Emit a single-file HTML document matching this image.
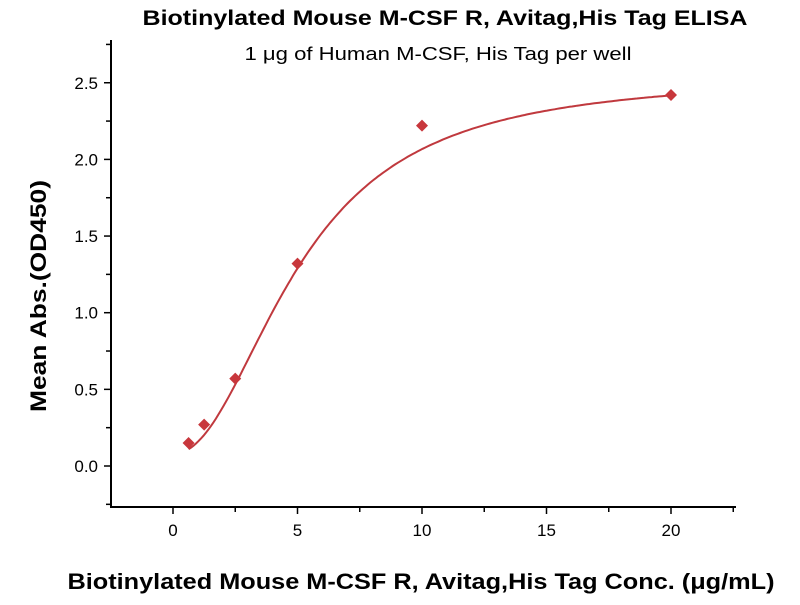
<!DOCTYPE html>
<html><head><meta charset="utf-8"><style>
body{margin:0;background:#fff;width:800px;height:600px;overflow:hidden}
text{font-family:"Liberation Sans",sans-serif;fill:#000}
</style></head><body>
<svg id="s" width="800" height="600" xmlns="http://www.w3.org/2000/svg">
<text x="445" y="25" text-anchor="middle" font-size="21" font-weight="bold" textLength="605" lengthAdjust="spacingAndGlyphs">Biotinylated Mouse M-CSF R, Avitag,His Tag ELISA</text>
<text x="438" y="60" text-anchor="middle" font-size="18" textLength="387" lengthAdjust="spacingAndGlyphs">1 μg of Human M-CSF, His Tag per well</text>
<text x="421" y="589" text-anchor="middle" font-size="22" font-weight="bold" textLength="707" lengthAdjust="spacingAndGlyphs">Biotinylated Mouse M-CSF R, Avitag,His Tag Conc. (μg/mL)</text>
<text transform="translate(46,296) rotate(-90)" text-anchor="middle" font-size="22" font-weight="bold" textLength="232" lengthAdjust="spacingAndGlyphs">Mean Abs.(OD450)</text>
<g stroke="#000" stroke-width="2" fill="none">
<line x1="111" y1="40" x2="111" y2="508"/>
<line x1="110" y1="507" x2="736" y2="507"/>
</g>
<g id="t" stroke="#000" stroke-width="1.5"></g>
<g id="l" font-size="17"></g>
<path id="c" fill="none" stroke="#c0393e" stroke-width="2"/>
<g id="m" fill="#c8373c"></g>
</svg>
<script>
const X=x=>173+x*24.9,Y=y=>466-y*153.3;
let t='',l='';
for(let v=-2.5;v<=22.5;v+=2.5){const px=X(v);if(px<112||px>736)continue;const maj=(v%5===0);t+=`<line x1="${px}" y1="507" x2="${px}" y2="${maj?514:512}"/>`;if(maj)l+=`<text x="${px}" y="536" text-anchor="middle">${v}</text>`;}
for(let v=-0.25;v<=2.75;v+=0.25){const py=Y(v);if(py<40||py>506)continue;const maj=Math.abs(v*2-Math.round(v*2))<1e-6;t+=`<line x1="${maj?104:106}" y1="${py}" x2="111" y2="${py}"/>`;if(maj)l+=`<text x="98" y="${py+6}" text-anchor="end">${v.toFixed(1)}</text>`;}
document.getElementById('t').innerHTML=t;document.getElementById('l').innerHTML=l;
const f=x=>0.08+(2.55-0.08)*Math.pow(x/5.1,2.1)/(1+Math.pow(x/5.1,2.1));
let d='';for(let x=0.625;x<=20.001;x+=0.1){d+=(d?'L':'M')+X(x).toFixed(1)+','+Y(f(x)).toFixed(1);}
document.getElementById('c').setAttribute('d',d);
const pts=[[0.625,0.15],[1.25,0.27],[2.5,0.57],[5,1.32],[10,2.22],[20,2.42]];
document.getElementById('m').innerHTML=pts.map(p=>{const x=X(p[0]),y=Y(p[1]);return `<polygon points="${x},${y-6} ${x+6},${y} ${x},${y+6} ${x-6},${y}"/>`}).join('');
</script>
</body></html>
